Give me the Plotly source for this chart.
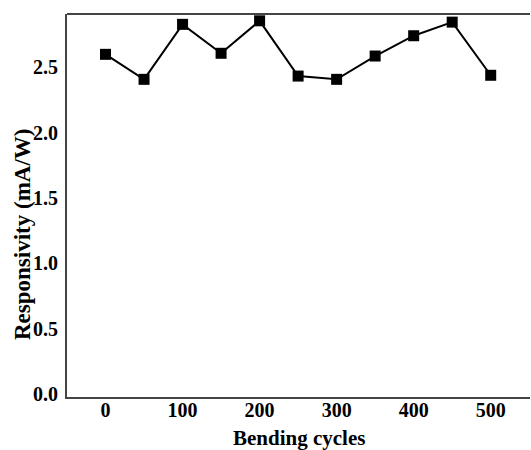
import plotly.graph_objects as go

cycles = [0, 50, 100, 150, 200, 250, 300, 350, 400, 450, 500]
responsivity = [2.597, 2.406, 2.826, 2.605, 2.853, 2.431, 2.406, 2.584, 2.739, 2.843, 2.437]
x_ticks = [0, 100, 200, 300, 400, 500]
y_ticks = [0.0, 0.5, 1.0, 1.5, 2.0, 2.5]

FONT = "Liberation Serif"
L, R, T, B = 67, 1, 14, 53
W, H = 531, 450
pw, ph = W - L - R, H - T - B

fig = go.Figure()
fig.add_trace(go.Scatter(
    x=cycles, y=responsivity, mode="lines+markers",
    line=dict(color="black", width=2),
    marker=dict(symbol="square", size=11, color="black"),
    showlegend=False,
))

tickfont = dict(family=FONT, size=20, color="black", weight="bold")
fig.update_layout(
    width=W, height=H,
    margin=dict(l=L, r=R, t=T, b=B),
    paper_bgcolor="white", plot_bgcolor="white",
    font=dict(family=FONT, size=16, color="black"),
    xaxis=dict(
        range=[-50, 551], tickvals=x_ticks, ticktext=[str(v) for v in x_ticks],
        showgrid=False, zeroline=False, showline=True, linecolor="#444", linewidth=2,
        ticks="", ticklabelstandoff=-6, tickfont=tickfont,
    ),
    yaxis=dict(
        range=[-0.02, 2.905], tickvals=y_ticks, ticktext=[f"{v:.1f}" for v in y_ticks],
        showgrid=False, zeroline=False, showline=True, linecolor="#444", linewidth=2,
        ticks="", ticklabelstandoff=3, tickfont=tickfont,
    ),
    shapes=[dict(type="line", xref="paper", yref="paper", x0=0, x1=1, y0=1, y1=1,
                 line=dict(color="#444", width=2))],
    annotations=[
        dict(text="<b>Bending cycles</b>", xref="paper", yref="paper",
             x=0.5, y=(H - B - 438) / ph, xanchor="center", yanchor="middle",
             borderpad=0, showarrow=False, font=dict(family=FONT, size=21, color="black")),
        dict(text="<b>Responsivity (mA/W)</b>", xref="paper", yref="paper",
             x=(22 - L) / pw, y=(H - B - 235) / ph, xanchor="center", yanchor="middle",
             textangle=-90, showarrow=False, font=dict(family=FONT, size=23, color="black")),
    ],
)

fig.write_html("out.html")
